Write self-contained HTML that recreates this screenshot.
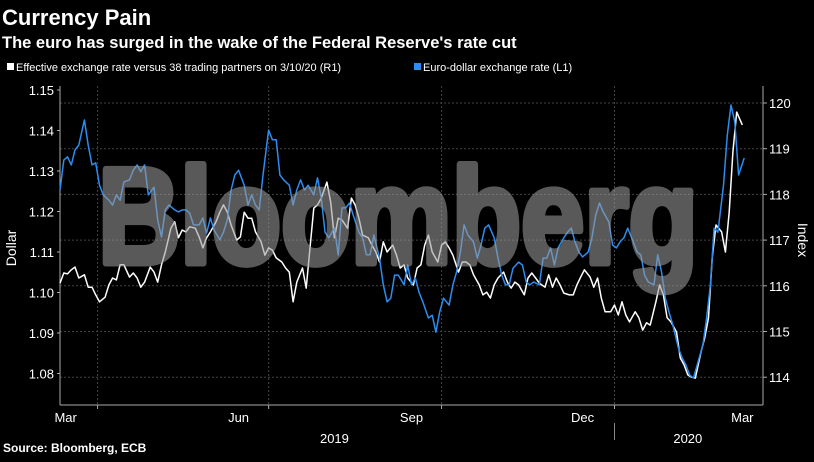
<!DOCTYPE html>
<html><head><meta charset="utf-8"><style>
body{margin:0;background:#000;width:814px;height:457px;overflow:hidden;font-family:"Liberation Sans",sans-serif;color:#fff}
</style></head><body>
<svg id="c" width="814" height="457" xmlns="http://www.w3.org/2000/svg">
<rect width="814" height="457" fill="#000"/>
<text x="2" y="25" font-size="22" font-weight="bold" fill="#fff">Currency Pain</text>
<text x="2" y="48" font-size="16.5" font-weight="bold" fill="#fff">The euro has surged in the wake of the Federal Reserve's rate cut</text>
<g>
<rect x="7" y="63" width="7" height="7" fill="#fff"/>
<text x="16" y="71" font-size="11" fill="#fff">Effective exchange rate versus 38 trading partners on 3/10/20 (R1)</text>
<rect x="414" y="63" width="7" height="7" fill="#2d8cf0"/>
<text x="423" y="71" font-size="11" fill="#fff">Euro-dollar exchange rate (L1)</text>
</g>
<g id="grid"></g><g id="axes"></g><g id="lines"></g>
<g opacity="0.58">
<text x="398" y="263" font-size="136" font-weight="bold" fill="#9a9a9a" stroke="#9a9a9a" stroke-width="7" stroke-linejoin="round" text-anchor="middle" textLength="600" lengthAdjust="spacingAndGlyphs">Bloomberg</text>
</g>
<text transform="translate(16,248) rotate(-90)" font-size="14" fill="#fff" text-anchor="middle">Dollar</text>
<text transform="translate(798,240) rotate(90)" font-size="14" fill="#fff" text-anchor="middle">Index</text>
<text x="3" y="452" font-size="12" font-weight="bold" fill="#fff">Source: Bloomberg, ECB</text>
</svg>
<script>
const leftTicks=[1.08,1.09,1.10,1.11,1.12,1.13,1.14,1.15];
const rightTicks=[114,115,116,117,118,119,120];
const monthLabels=["Mar","Jun","Sep","Dec","Mar"];
const monthDates=["2019-03-15","2019-06-15","2019-09-15","2019-12-15","2020-03-09"];
const quarterDates=["2019-04-01","2019-07-01","2019-10-01","2020-01-01"];
const yearLabels=["2019","2020"];
const yearDates=["2019-08-05","2020-02-09"];
const startDate="2019-03-12", blueEnd="2020-03-10", whiteEnd="2020-03-09";
const eurusd=[1.1253,1.1327,1.1335,1.1315,1.1352,1.1364,1.1426,1.1364,1.1315,1.132,1.1265,1.1241,1.1228,1.1216,1.1241,1.1228,1.1273,1.1278,1.1302,1.1315,1.1298,1.1315,1.1241,1.126,1.1179,1.1137,1.1204,1.1216,1.1204,1.1199,1.1204,1.1204,1.1196,1.1167,1.1167,1.1184,1.1147,1.1184,1.1154,1.113,1.1149,1.1179,1.1253,1.129,1.1302,1.1265,1.1216,1.1241,1.1216,1.1204,1.129,1.1401,1.1377,1.1377,1.129,1.1278,1.1265,1.1216,1.1253,1.1278,1.1253,1.1265,1.1241,1.1283,1.1233,1.1149,1.1135,1.1159,1.1093,1.1209,1.1209,1.1221,1.1191,1.1149,1.1135,1.1093,1.1093,1.1142,1.1085,1.1019,1.0977,1.0986,1.1043,1.1043,1.1019,1.1068,1.1019,1.1036,1.1001,1.0977,1.0937,1.0944,1.0902,1.0952,1.0986,1.0969,1.1019,1.1051,1.11,1.1167,1.1142,1.1125,1.1085,1.1117,1.1159,1.1167,1.1135,1.1085,1.1043,1.1019,1.1019,1.106,1.1075,1.1068,1.1026,1.1019,1.1026,1.1019,1.1085,1.1085,1.111,1.1068,1.111,1.1135,1.1149,1.1159,1.1125,1.11,1.1088,1.11,1.1135,1.1191,1.1221,1.1199,1.1174,1.1117,1.111,1.1125,1.1135,1.1159,1.1125,1.11,1.1093,1.1043,1.1026,1.1019,1.1093,1.1051,1.0986,1.0952,1.092,1.0863,1.0838,1.0821,1.0796,1.0789,1.0838,1.087,1.0937,1.1019,1.1159,1.1149,1.1265,1.1389,1.1463,1.1421,1.129,1.1332];
const effective=[116.06,116.28,116.26,116.35,116.41,116.17,116.24,115.97,115.97,115.80,115.65,115.75,116.02,116.17,116.13,116.46,116.46,116.19,116.28,116.17,115.97,116.08,116.41,116.30,116.08,116.46,116.74,117.26,117.40,117.05,117.22,117.18,117.29,117.26,117.07,116.83,117.05,117.18,117.40,117.61,117.77,117.61,117.33,117.00,117.07,117.61,117.48,117.48,117.18,116.96,116.67,116.83,116.78,116.61,116.52,116.39,116.30,115.65,116.08,116.39,115.95,116.83,117.70,117.77,117.92,118.27,117.83,117.05,117.48,117.44,117.26,117.92,117.77,117.48,117.11,117.05,116.89,116.74,116.52,116.96,116.74,116.89,116.67,116.39,116.46,116.17,116.02,116.39,116.46,116.89,117.11,116.74,116.52,116.89,116.96,116.83,116.67,116.30,116.52,116.52,116.46,116.24,116.02,115.80,115.86,115.73,116.02,116.17,116.30,116.08,115.95,116.08,116.02,115.80,116.17,116.28,116.17,116.06,115.97,116.24,115.97,116.17,116.02,115.84,115.80,115.80,116.02,116.19,116.35,116.19,115.97,116.17,115.73,115.43,115.43,115.58,115.36,115.65,115.36,115.21,115.43,115.30,115.03,115.19,115.14,115.65,116.02,115.80,115.30,115.21,114.99,114.42,114.27,114.05,114.00,113.98,114.55,114.86,115.30,116.61,117.33,117.18,116.74,117.61,118.93,119.80,119.52];

const NS="http://www.w3.org/2000/svg";
const X0=60,X1=763,YT=86,YB=405;
const d0=Date.parse("2019-03-12"),d1=Date.parse("2020-03-20");
function xDate(s){return X0+(Date.parse(s)-d0)/(d1-d0)*(X1-X0);}
function yL(v){return 90+(1.15-v)*4050;}
function yR(v){return 103+(120-v)*45.7;}
function mk(tag,attrs,parent){const e=document.createElementNS(NS,tag);for(const k in attrs)e.setAttribute(k,attrs[k]);parent.appendChild(e);return e;}
const grid=document.getElementById('grid'),axes=document.getElementById('axes'),lines=document.getElementById('lines');
rightTicks.forEach(t=>{const y=yR(t);
 const g=mk('line',{x1:X0,x2:X1,y1:y,y2:y,stroke:'#444','stroke-dasharray':'2,2','stroke-width':1},grid);
 
 
 mk('line',{x1:X1,x2:X1+4,y1:y,y2:y,stroke:'#aaa'},axes);
 const tx=mk('text',{x:X1+6,y:y+5,'font-size':13,fill:'#fff'},axes);tx.textContent=t;
 
 });
leftTicks.forEach(t=>{const y=yL(t);
 mk('line',{x1:X0-3,x2:X0,y1:y,y2:y,stroke:'#aaa'},axes);
 const tx=mk('text',{x:X0-6,y:y+5,'font-size':13,fill:'#fff','text-anchor':'end'},axes);tx.textContent=t.toFixed(2);
 
 });
quarterDates.forEach(d=>{const x=xDate(d);
 const g=mk('line',{x1:x,x2:x,y1:YT,y2:YB,stroke:'#444','stroke-dasharray':'2,2'},grid);
 
 
 mk('line',{x1:x,x2:x,y1:YB,y2:YB+4,stroke:'#aaa'},axes);});
monthLabels.forEach((m,i)=>{const tx=mk('text',{x:xDate(monthDates[i]),y:YB+17,'font-size':13,fill:'#fff','text-anchor':'middle'},axes);tx.textContent=m;
 
 });
yearLabels.forEach((m,i)=>{const tx=mk('text',{x:xDate(yearDates[i]),y:YB+38,'font-size':13,fill:'#fff','text-anchor':'middle'},axes);tx.textContent=m;
 
 });
mk('line',{x1:xDate("2020-01-01"),x2:xDate("2020-01-01"),y1:YB+18,y2:YB+35,stroke:'#888'},axes);
mk('line',{x1:X0,x2:X0,y1:YT,y2:YB,stroke:'#aaa'},axes);
mk('line',{x1:X1,x2:X1,y1:YT,y2:YB,stroke:'#aaa'},axes);
mk('line',{x1:X0,x2:X1,y1:YB,y2:YB,stroke:'#aaa'},axes);
function series(vals,end,yf,color,name){
 const a=Date.parse(startDate),b=Date.parse(end),n=vals.length;
 const pts=vals.map((v,i)=>{const t=new Date(a+(b-a)*i/(n-1)).toISOString().slice(0,10);return xDate(t).toFixed(1)+','+yf(v).toFixed(1);});
 const p=mk('polyline',{points:pts.join(' '),fill:'none',stroke:color,'stroke-width':1.5,'stroke-linejoin':'round'},lines);
 
 }
series(effective,whiteEnd,yR,'#ffffff','effective-rate-line');
series(eurusd,blueEnd,yL,'#2d8cf0','eurusd-line');
</script>
</body></html>
